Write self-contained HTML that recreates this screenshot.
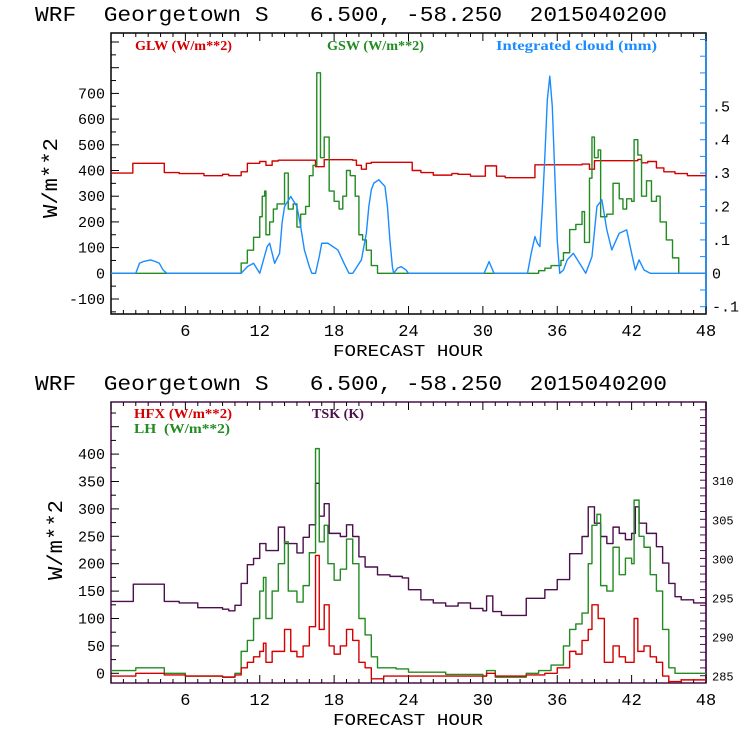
<!DOCTYPE html>
<html><head><meta charset="utf-8"><style>
body{margin:0;background:#fff}
svg{display:block}
text{font-family:"Liberation Mono",monospace;white-space:pre}
.lg{font-family:"Liberation Serif",serif;font-size:14px;font-weight:bold}
</style></head><body>
<svg id="s" width="740" height="740" viewBox="0 0 740 740"></svg>
<script>
// ---------- data ----------
const glwHours=[0,1.76,4.3,5.5,7.5,9,9.5,10.5,11,12,12.5,13,13.5,16.5,17.2,19.5,19.8,20.2,20.6,21,23.6,24.3,25,26,27.5,28,29,30.2,31.1,31.8,34.2,38,38.6,39,42.5,42.8,43.3,44,44.6,45.5,46.5,48];
const glwVals=[390,428,392,388,380,385,380,395,428,435,420,437,440,415,442,440,420,405,428,432,432,400,392,382,388,385,378,418,378,372,422,425,405,438,443,430,435,410,395,388,380,380];
const gswHours=[0,10,10.5,11,11.5,12,12.2,12.4,12.5,12.8,13.1,13.4,14,14.3,14.7,15,15.3,15.7,16,16.3,16.6,16.9,17.2,17.6,18,18.4,18.7,19,19.3,19.7,20,20.3,20.6,21,21.5,34,34.5,35,35.5,36.3,36.5,37,37.5,38,38.2,38.6,38.8,39,39.3,39.5,40,40.5,41,41.3,41.6,42,42.2,42.5,42.8,43.2,43.6,44,44.3,44.8,45.3,45.8,48];
const gswVals=[0,0,40,90,140,220,300,320,150,200,250,270,390,250,270,180,230,260,380,420,780,450,530,320,280,250,300,400,380,300,150,130,90,30,0,0,10,20,30,50,80,170,190,240,120,370,530,450,480,220,230,350,290,250,290,280,520,460,300,360,280,300,200,130,60,0,0];
const cloudHours=[0,2,2.3,2.6,3.2,3.6,3.9,4.2,4.5,10.5,11,11.5,12,12.3,12.6,12.8,13.2,13.6,13.8,14,14.5,15,15.3,15.6,16,16.2,16.5,16.8,17,17.5,18.3,18.8,19.2,19.5,20.2,20.6,20.8,21,21.2,21.6,22.1,22.3,22.5,22.7,22.8,23.1,23.4,23.8,24,30.1,30.5,30.9,33.6,33.9,34.2,34.4,34.6,34.8,35,35.2,35.4,35.6,35.8,36,36.2,36.5,36.8,37.3,37.8,38.3,38.8,39.2,39.6,40,40.4,41,41.6,42,42.3,42.6,43,43.5,48];
const cloudVals=[0,0,0.03,0.035,0.04,0.035,0.03,0.01,0,0,0.02,0.03,0,0.04,0.08,0.09,0.03,0.06,0.15,0.2,0.23,0.2,0.14,0.07,0.02,0,0,0.05,0.09,0.09,0.07,0.03,0,0,0.04,0.12,0.2,0.25,0.27,0.28,0.26,0.2,0.1,0.02,0,0.015,0.02,0.01,0,0,0.035,0,0,0.06,0.11,0.09,0.08,0.2,0.35,0.52,0.59,0.5,0.3,0.1,0,0.01,0.04,0.06,0.03,0,0.05,0.2,0.22,0.13,0.07,0.12,0.13,0.06,0.01,0.04,0.01,0,0];
const hfxHours=[0,2,4.3,6,9,10,10.5,11,11.5,12,12.3,12.5,13,13.5,14,14.5,15,15.5,16,16.5,16.8,17.2,17.6,18,18.5,19,19.5,20,20.5,21,22,24,30,30.3,31,33.5,35,36,37,37.5,38,38.5,38.8,39.3,39.8,40.5,41,41.5,42,42.2,42.5,43,43.5,44,44.5,45,46,48];
const hfxVals=[-5,0,-3,-5,-7,-3,10,20,30,40,55,20,40,40,80,40,30,50,85,215,80,125,50,35,50,80,60,20,10,-10,-5,-5,-5,0,-5,-3,0,10,40,35,60,80,125,100,20,50,30,20,20,100,40,50,30,20,-5,-15,-12,-10];
const lhHours=[0,2,4.3,6,9,10,10.5,11,11.5,12,12.3,12.5,13,13.5,14,14.3,15,15.5,16,16.5,16.8,17.2,17.5,18,18.5,19,19.5,20,20.5,21,21.5,23,24,27,30,30.3,31,33.5,34.5,35.5,36.5,37,37.5,38,38.5,38.8,39.2,39.5,40,40.5,41,41.5,42,42.2,42.6,43,43.5,44,44.5,45,45.5,48];
const lhVals=[5,10,0,-5,-7,0,40,60,100,150,175,100,150,200,240,150,130,160,220,410,240,270,200,170,190,245,200,100,70,30,10,8,2,-2,-5,5,-7,0,5,15,50,80,90,110,200,270,290,160,150,230,180,210,200,316,250,230,180,150,80,10,0,0];
const tskHours=[0,1.8,4.3,5.5,7,9,9.5,10,10.5,11,11.5,12,12.5,13.5,14,14.5,15,15.5,16,16.5,16.8,17.2,17.6,18.5,19,19.5,20,20.5,21.5,22.5,23.5,24,25,26,27,28,29,30,30.3,30.8,31.5,33.3,33.5,35,36,37,38,38.5,39,39.5,40,40.5,41,41.5,42,42.3,42.6,43.2,44,44.5,45,45.5,46,47,48];
const tskVals=[294.5,296.7,294.5,294.3,293.7,293.5,293.3,294,296.8,299.2,300,301.9,301,304,301.9,301.9,300.7,302.7,304.3,309.6,305.4,307,303.2,302.8,304.3,302.8,300.2,298.9,297.9,297.7,297.5,296,294.7,294.3,293.9,294.3,293.6,293.3,295.2,293.2,292.7,292.7,294.9,296,297.3,300.6,302.8,306.6,304.5,302.8,301.9,304,303.2,302.4,303.2,306.6,304.5,303.2,301.5,299.4,296.8,295.1,294.7,294.3,293.8];

// ---------- drawing ----------
const NS='http://www.w3.org/2000/svg';
const svg=document.getElementById('s');
function el(tag,attrs,parent){const e=document.createElementNS(NS,tag);for(const k in attrs)e.setAttribute(k,attrs[k]);(parent||svg).appendChild(e);return e;}
const X0=111,X1=706;
function xs(h){return X0+h*(X1-X0)/48;}

function panel(p){
  const g=el('g',{});
  
  
  const t=el('text',{x:35,y:p.top-12,'font-size':21,textLength:632,lengthAdjust:'spacingAndGlyphs'},g);
  t.textContent='WRF  Georgetown S   6.500, -58.250  2015040200';
  
  
  const clipId='c'+p.top;
  const cp=el('clipPath',{id:clipId},g);
  el('rect',{x:X0,y:p.top,width:X1-X0,height:p.bot-p.top},cp);
  el('rect',{x:X0,y:p.top,width:X1-X0,height:p.bot-p.top,fill:'none',stroke:p.frame,'stroke-width':1.5},g);
  el('line',{x1:X1,y1:p.top,x2:X1,y2:p.bot,stroke:p.rcol,'stroke-width':1.5},g);
  for(let h=0;h<=48;h++){
    const x=xs(h),L=h%6===0?8:4;
    el('line',{x1:x,y1:p.bot,x2:x,y2:p.bot-L,stroke:'#000','stroke-width':1},g);
    el('line',{x1:x,y1:p.top,x2:x,y2:p.top+L,stroke:'#000','stroke-width':1},g);
    if(h%6===0&&h>0){const tx=el('text',{x:x,y:p.bot+22,'font-size':17,'text-anchor':'middle'},g);tx.textContent=h;
      }
  }
  const xl=el('text',{x:408,y:p.bot+42,'font-size':17,'text-anchor':'middle',textLength:150,lengthAdjust:'spacingAndGlyphs'},g);xl.textContent='FORECAST HOUR';
  
  const yl=el('text',{x:0,y:0,'font-size':21,'text-anchor':'middle',textLength:80,lengthAdjust:'spacingAndGlyphs',transform:`translate(${p.ylx},${p.yly}) rotate(-90)`},g);yl.textContent='W/m**2';
  
  for(let v=p.lmin;v<=p.lmax;v+=p.lminor){
    const y=p.ly(v);if(y<p.top||y>p.bot)continue;const major=Math.abs(v%p.lmajor)<1e-6;
    el('line',{x1:X0,y1:y,x2:X0+(major?8:5),y2:y,stroke:'#000'},g);
  }
  p.llabels.forEach(v=>{const tx=el('text',{x:X0-6,y:p.ly(v)+5,'font-size':15,'text-anchor':'end'},g);tx.textContent=v;
    });
  for(let v=p.rmin;v<=p.rmax+1e-9;v+=p.rminor){
    const y=p.ry(v);if(y<p.top||y>p.bot)continue;
    el('line',{x1:X1,y1:y,x2:X1-6,y2:y,stroke:p.rcol},g);
  }
  p.rlabels.forEach((v,i)=>{const tx=el('text',{x:X1+6,y:p.ry(v)+5,'font-size':p.rfs,fill:'#000'},g);tx.textContent=p.rtext[i];
    });
  const sg=el('g',{'clip-path':`url(#${clipId})`},g);
  p.series.forEach(s=>{
    let d='';
    s.h.forEach((h,i)=>{const x=xs(h),y=s.sc(s.v[i]);
      if(i===0)d+=`M${x},${y}`;else if(s.step)d+=`H${x}V${y}`;else d+=`L${x},${y}`;});
    if(s.step)d+=`H${xs(48)}`;
    const path=el('path',{d:d,fill:'none',stroke:s.c,'stroke-width':1.4,'stroke-linejoin':'round'},sg);
    
    
  });
  p.legend.forEach(l=>{const tx=el('text',{x:l.x,y:l.y,fill:l.c,class:'lg',textLength:l.w,lengthAdjust:'spacingAndGlyphs'},g);tx.textContent=l.t;
    });
}

const tly=v=>273.3-v*0.257, try_=v=>273.3-v*334;
panel({name:'radiation-panel',top:33,bot:314,frame:'#000',rcol:'#1a8cff',ylx:57,yly:178,
  ly:tly,lmin:-150,lmax:950,lminor:50,lmajor:100,llabels:[-100,0,100,200,300,400,500,600,700],
  ry:try_,rmin:-0.15,rmax:0.8,rminor:0.05,rlabels:[-0.1,0,0.1,0.2,0.3,0.4,0.5],rtext:['-.1','0','.1','.2','.3','.4','.5'],rfs:15,
  series:[
    {name:'glw-line',h:glwHours,v:glwVals,sc:tly,c:'#d40000',step:true},
    {name:'gsw-line',h:gswHours,v:gswVals,sc:tly,c:'#228b22',step:true},
    {name:'cloud-line',h:cloudHours,v:cloudVals,sc:try_,c:'#1a8cff',step:false}],
  legend:[{x:135,y:50,c:'#d40000',t:'GLW (W/m**2)',w:97},{x:327,y:50,c:'#228b22',t:'GSW (W/m**2)',w:97},{x:496,y:50,c:'#1a8cff',t:'Integrated cloud (mm)',w:161}]
});
const bly=v=>673.3-v*0.548, bry=v=>675.7-(v-285)*7.82;
panel({name:'flux-panel',top:402,bot:683,frame:'#4b0f4b',rcol:'#4b0f4b',ylx:62,yly:540,
  ly:bly,lmin:-25,lmax:525,lminor:25,lmajor:50,llabels:[0,50,100,150,200,250,300,350,400],
  ry:bry,rmin:284,rmax:320,rminor:1,rlabels:[285,290,295,300,305,310],rtext:['285','290','295','300','305','310'],rfs:12,
  series:[
    {name:'tsk-line',h:tskHours,v:tskVals,sc:bry,c:'#4b0f4b',step:true},
    {name:'lh-line',h:lhHours,v:lhVals,sc:bly,c:'#228b22',step:true},
    {name:'hfx-line',h:hfxHours,v:hfxVals,sc:bly,c:'#d40000',step:true}],
  legend:[{x:134,y:418,c:'#d40000',t:'HFX (W/m**2)',w:98},{x:134,y:433,c:'#228b22',t:'LH  (W/m**2)',w:96},{x:312,y:418,c:'#4b0f4b',t:'TSK (K)',w:52}]
});
</script>
</body></html>
